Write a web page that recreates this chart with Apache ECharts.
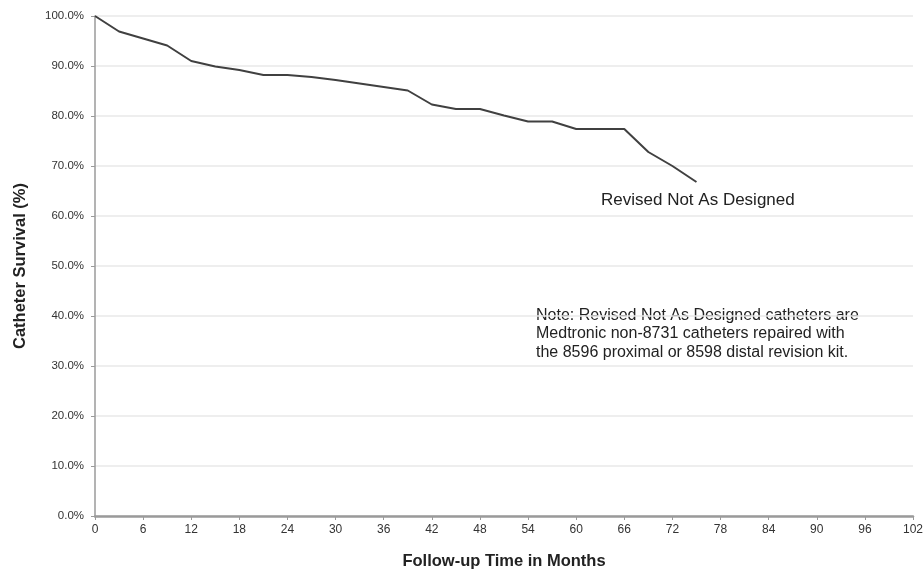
<!DOCTYPE html>
<html>
<head>
<meta charset="utf-8">
<script src="https://cdn.jsdelivr.net/npm/echarts@6/dist/echarts.min.js"></script>
<style>
  html, body { margin: 0; padding: 0; background: #fff; }
  #chart { width: 923px; height: 573px; }
</style>
</head>
<body>
<div id="chart"></div>
<script>
// Follow-up time (months) and catheter survival (%)
const months = [0, 3, 6, 9, 12, 15, 18, 21, 24, 27, 30, 33, 36, 39, 42, 45, 48, 51, 54, 57, 60, 63, 66, 69, 72, 75];
const survival = [100, 96.9, 95.5, 94.1, 91.0, 89.9, 89.2, 88.2, 88.2, 87.8, 87.2, 86.5, 85.8, 85.1, 82.3, 81.4, 81.4, 80.1, 78.9, 78.9, 77.4, 77.4, 77.4, 72.8, 70.0, 66.8];

const seriesName = 'Revised Not As Designed';
const noteLines = [
  'Note: Revised Not As Designed catheters are',
  'Medtronic non-8731 catheters repaired with',
  'the 8596 proximal or 8598 distal revision kit.'
];

const chart = echarts.init(document.getElementById('chart'), null, { renderer: 'canvas' });
const font = 'Arial, "Liberation Sans", Helvetica, sans-serif';

chart.setOption({
  animation: false,
  backgroundColor: '#ffffff',
  grid: { left: 95, right: 10, top: 16, bottom: 57, containLabel: false, outerBoundsMode: 'none' },
  xAxis: {
    type: 'value',
    min: 0, max: 102, interval: 6,
    name: 'Follow-up Time in Months',
    nameLocation: 'middle',
    nameGap: 37,
    nameTextStyle: { fontFamily: font, fontSize: 16.5, fontWeight: 'bold', color: '#222' },
    axisLine: { show: true, lineStyle: { color: '#9a9a9a', width: 2.5 } },
    axisTick: { show: true, length: 4, lineStyle: { color: '#9a9a9a' } },
    axisLabel: { fontFamily: font, fontSize: 12, color: '#333', margin: 8 },
    splitLine: { show: false }
  },
  yAxis: {
    type: 'value',
    min: 0, max: 100, interval: 10,
    name: 'Catheter Survival (%)',
    nameLocation: 'middle',
    nameGap: 66,
    nameRotate: 90,
    nameTextStyle: { fontFamily: font, fontSize: 16.5, fontWeight: 'bold', color: '#222' },
    axisLine: { show: true, lineStyle: { color: '#9a9a9a', width: 1.5 } },
    axisTick: { show: true, length: 4, lineStyle: { color: '#9a9a9a' } },
    axisLabel: {
      fontFamily: font, fontSize: 11.5, color: '#333', margin: 11,
      formatter: v => v.toFixed(1) + '%'
    },
    splitLine: { show: true, lineStyle: { color: '#e8e8e8', width: 1.5 } }
  },
  series: [{
    name: seriesName,
    type: 'line',
    data: months.map((m, i) => [m, survival[i]]),
    showSymbol: false,
    lineStyle: { color: '#404040', width: 2 },
    label: { show: false }
  }],
  graphic: [
    {
      type: 'text', left: 601, top: 192,
      style: { text: seriesName, font: '17px ' + font, fill: '#222' }
    },
    {
      type: 'text', left: 536, top: 306,
      style: { text: noteLines.join('\n'), font: '16px ' + font, fill: '#222', lineHeight: 18.5 }
    }
  ]
});
</script>
</body>
</html>
